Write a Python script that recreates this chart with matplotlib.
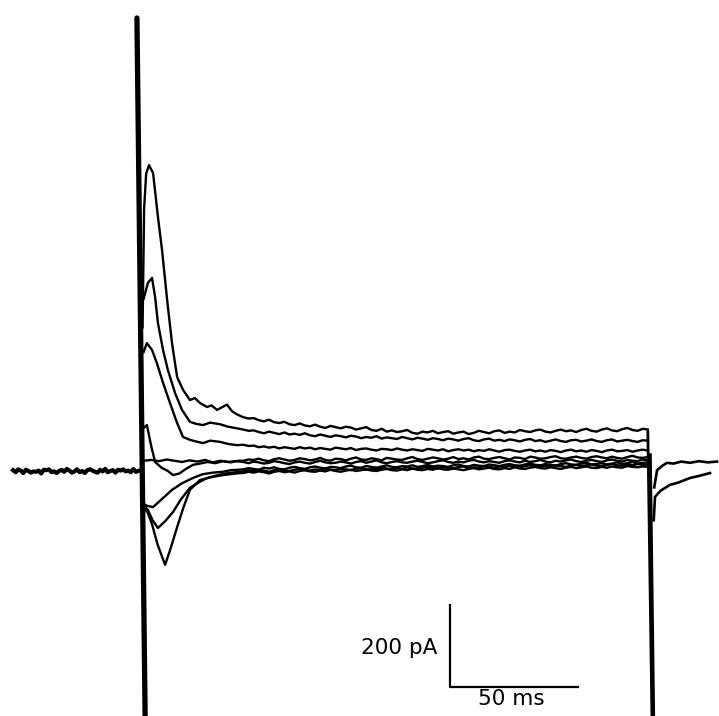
import matplotlib
matplotlib.use("Agg")
import matplotlib.pyplot as plt

# ---- data (time in ms relative to step onset, current in pA) ----
PRE_T = [-50, -49, -48, -47, -46, -45, -44, -43, -42, -41,
         -40, -39, -38, -37, -36, -35, -34, -33, -32, -31,
         -30, -29, -28, -27, -26, -25, -24, -23, -22, -21,
         -20, -19, -18, -17, -16, -15, -14, -13, -12, -11,
         -10, -9, -8, -7, -6, -5, -4, -3, -2, -1,
         0]
PRE_I = [2, -3, 4, 1, -5, 3, 0, -4, -1, -2,
         1, -6, 3, 2, 4, -3, -1, -5, 0, 3,
         -2, 5, 1, -4, -1, 4, -3, 0, -5, 2,
         4, 1, -2, -4, 3, -1, 5, -3, 0, 2,
         -4, 3, 1, 4, -1, 1, -3, 5, -2, 0,
         3]

T_SS = [40, 42, 44, 46, 48, 50, 52, 54, 56, 58,
        60, 62, 64, 66, 68, 70, 72, 74, 76, 78,
        80, 82, 84, 86, 88, 90, 92, 94, 96, 98,
        100, 102, 104, 106, 108, 110, 112, 114, 116, 118,
        120, 122, 124, 126, 128, 130, 132, 134, 136, 138,
        140, 142, 144, 146, 148, 150, 152, 154, 156, 158,
        160, 162, 164, 166, 168, 170, 172, 174, 176, 178,
        180, 182, 184, 186, 188, 190, 192, 194, 196, 198]

A_T = [0.6, 1.2, 2.0, 3.1, 4.7, 6.6, 8.2, 10.2, 12.1, 14.1, 16.4, 19.1, 21.0,
       23.0, 25.8, 27.5, 29.7, 31.5, 33.6, 35.5, 37.5]
A_I = [350, 640, 725, 746, 727, 620, 539, 417, 312, 229, 198, 173, 178,
       166, 156, 160, 149, 155, 162, 146, 138]
A_SS = [131, 128, 129, 124, 121, 125, 119, 117, 120, 114,
        112, 116, 111, 109, 113, 108, 105, 110, 107, 104,
        108, 106, 101, 104, 107, 100, 98, 103, 96, 99,
        95, 97, 100, 93, 91, 96, 94, 98, 92, 95,
        97, 91, 94, 96, 90, 93, 98, 95, 92, 97,
        99, 93, 96, 94, 100, 97, 95, 99, 101, 96,
        94, 98, 101, 97, 99, 95, 100, 103, 98, 96,
        101, 104, 99, 97, 102, 105, 100, 98, 103, 101]

B_T = [1.0, 2.7, 4.3, 5.5, 6.6, 8.6, 10.5, 13.3, 16.0, 19.1, 21.5, 24.2, 27.0,
       30.9, 34.0, 37.5]
B_I = [420, 459, 471, 424, 361, 295, 246, 190, 149, 120, 115, 112, 118,
       114, 108, 104]
B_SS = [101, 98, 99, 95, 92, 96, 93, 90, 94, 89,
        91, 88, 92, 87, 85, 89, 86, 83, 87, 85,
        82, 86, 84, 80, 83, 81, 85, 79, 82, 80,
        78, 83, 80, 77, 81, 79, 76, 80, 78, 75,
        79, 77, 74, 78, 80, 75, 73, 77, 79, 74,
        76, 73, 77, 75, 72, 76, 78, 73, 75, 71,
        74, 77, 73, 71, 75, 76, 72, 74, 77, 73,
        71, 75, 77, 72, 74, 76, 73, 71, 75, 74]

C_T = [1.0, 2.3, 4.3, 6.2, 8.6, 11.3, 14.1, 16.4, 19.1, 21.5, 24.2, 27.0,
       30.9, 34.0, 37.5]
C_I = [290, 312, 295, 263, 215, 166, 117, 83, 76, 72, 68, 74, 71, 66, 63]
C_SS = [64, 61, 62, 58, 60, 57, 59, 55, 58, 56,
        54, 58, 55, 57, 53, 56, 54, 52, 57, 55,
        53, 56, 51, 54, 55, 52, 50, 54, 53, 51,
        55, 52, 50, 53, 51, 49, 54, 52, 50, 53,
        48, 51, 53, 50, 52, 48, 51, 49, 53, 50,
        47, 51, 52, 49, 47, 50, 52, 48, 50, 47,
        51, 49, 46, 50, 52, 48, 50, 47, 51, 49,
        46, 50, 52, 48, 49, 51, 47, 50, 52, 50]

D_T = [1.0, 2.3, 4.0, 5.5, 8.0, 10.5, 12.5, 15.0, 17.5, 20.3, 23.0, 26.0,
       29.0, 32.0, 35.0, 38.0]
D_I = [105, 112, 60, 22, 8, 0, -10, -6, 5, 15, 18, 22, 19, 24, 21, 25]
D_SS = [25, 28, 27, 30, 26, 24, 29, 31, 28, 25,
        27, 31, 29, 26, 28, 32, 27, 25, 30, 29,
        26, 30, 33, 28, 27, 31, 29, 26, 32, 30,
        28, 27, 31, 34, 29, 27, 30, 33, 31, 28,
        30, 34, 29, 31, 28, 33, 35, 30, 29, 32,
        34, 31, 28, 33, 32, 29, 35, 33, 30, 31,
        34, 36, 31, 30, 33, 35, 32, 30, 34, 36,
        33, 31, 35, 32, 30, 34, 37, 33, 32, 34]

E_T = [1.0, 4.0, 7.0, 10.0, 13.0, 16.0, 19.0, 22.0, 25.0, 28.0, 31.0, 34.0, 37.0]
E_I = [25, 27, 24, 28, 25, 22, 26, 23, 27, 21, 25, 22, 24]
E_SS = [22, 19, 23, 21, 18, 20, 24, 22, 19, 17,
        21, 23, 20, 18, 22, 25, 21, 19, 20, 23,
        21, 18, 22, 24, 20, 23, 26, 21, 19, 22,
        24, 21, 20, 23, 25, 22, 19, 21, 24, 26,
        22, 20, 23, 21, 25, 27, 23, 21, 24, 22,
        20, 24, 26, 23, 21, 25, 22, 24, 27, 23,
        21, 25, 23, 26, 28, 24, 22, 25, 27, 24,
        22, 26, 28, 25, 23, 27, 25, 24, 28, 26]

F_T = [1.0, 2.3, 4.7, 8.6, 12.1, 16.0, 20.3, 24.0, 28.0, 32.0, 35.0, 38.0]
F_I = [-80, -85, -88, -66, -46, -30, -17, -8, -4, -2, 2, 3]
F_SS = [4, 7, 5, 3, 8, 6, 9, 5, 4, 8,
        10, 7, 5, 9, 11, 8, 6, 10, 9, 7,
        11, 13, 9, 8, 12, 10, 8, 11, 14, 10,
        9, 12, 11, 14, 10, 12, 15, 11, 13, 12,
        10, 14, 16, 12, 11, 15, 13, 12, 16, 14,
        12, 15, 17, 14, 13, 16, 18, 15, 14, 17,
        15, 13, 17, 19, 16, 15, 18, 20, 16, 17,
        19, 16, 18, 21, 17, 19, 22, 18, 20, 21]

G_T = [1.0, 2.7, 4.5, 6.6, 9.5, 12.5, 15.5, 19.1, 22.5, 25.8, 30.0, 34.0, 38.7]
G_I = [-85, -95, -120, -139, -122, -100, -70, -41, -28, -17, -10, -5, -2]
G_SS = [-1, 2, 0, 3, 1, -2, 2, 4, 1, 0,
        3, 5, 2, 1, 4, 2, 6, 3, 2, 5,
        4, 2, 6, 7, 3, 5, 4, 8, 6, 4,
        7, 5, 9, 6, 5, 8, 10, 7, 6, 9,
        8, 6, 10, 11, 7, 9, 8, 12, 10, 8,
        11, 9, 13, 10, 9, 12, 14, 11, 10, 13,
        11, 14, 12, 10, 13, 15, 12, 14, 16, 13,
        12, 15, 17, 14, 13, 16, 14, 17, 15, 16]

H_T = [1.0, 2.5, 4.3, 6.5, 9.4, 11.5, 14.1, 16.5, 19.1, 23.0, 27.5, 32.0,
       36.0, 38.7]
H_I = [-90, -100, -130, -180, -229, -190, -137, -90, -46, -22, -15, -10, -7, -5]
H_SS = [-5, -2, -4, -1, -3, -6, -2, 0, -3, -1,
        -4, 0, 2, -1, -2, 1, -1, 3, 0, -2,
        1, 3, 0, 2, 4, 1, 0, 3, 5, 2,
        1, 4, 2, 6, 3, 2, 5, 3, 7, 4,
        3, 6, 4, 2, 5, 7, 4, 6, 8, 5,
        4, 7, 5, 9, 6, 5, 8, 10, 7, 6,
        9, 7, 5, 8, 10, 7, 9, 11, 8, 7,
        10, 8, 11, 9, 8, 12, 10, 9, 11, 10]

TAIL1_T = [200.5, 201.6, 203.5, 205.5, 208.0, 211.0, 214.5, 218.0, 221.5, 225.0]
TAIL1_I = [-40, 2, 12, 20, 18, 23, 20, 24, 21, 23]
TAIL2_T = [200.3, 200.8, 203.0, 206.6, 210.0, 214.5, 218.0, 222.3]
TAIL2_I = [-120, -63, -48, -34, -28, -17, -12, -5]

ON_T = [-1.6, 1.6]
ON_I = [1105, -600]
OFF1_T = [198.0, 199.6]
OFF1_I = [95, -600]
OFF2_T = [199.0, 200.3]
OFF2_I = [40, -600]

SB_T0 = 120.7      # scale bar corner (ms)
SB_I0 = -527       # scale bar corner (pA)
SB_DT = 50         # ms
SB_DI = 200        # pA

traces = [(A_T, A_I, A_SS), (B_T, B_I, B_SS), (C_T, C_I, C_SS),
          (D_T, D_I, D_SS), (E_T, E_I, E_SS), (F_T, F_I, F_SS),
          (G_T, G_I, G_SS), (H_T, H_I, H_SS)]

fig = plt.figure(figsize=(7.19, 7.16), dpi=100)
ax = fig.add_axes([0, 0, 1, 1])
ax.set_xlim(-55.1, 225.8)
ax.set_ylim(-597.6, 1148.8)
ax.axis("off")

k = "black"
ax.plot(PRE_T, PRE_I, color=k, lw=3.0, solid_joinstyle="round")
for t_e, i_e, i_ss in traces:
    ax.plot(list(t_e) + T_SS, list(i_e) + i_ss, color=k, lw=1.7,
            solid_joinstyle="round")
ax.plot(TAIL1_T, TAIL1_I, color=k, lw=1.9)
ax.plot(TAIL2_T, TAIL2_I, color=k, lw=1.9)
ax.plot(ON_T, ON_I, color=k, lw=3.8, solid_capstyle="round")
ax.plot(OFF1_T, OFF1_I, color=k, lw=2.0)
ax.plot(OFF2_T, OFF2_I, color=k, lw=2.0)

# scale bar
ax.plot([SB_T0, SB_T0, SB_T0 + SB_DT], [SB_I0 + SB_DI, SB_I0, SB_I0],
        color=k, lw=1.6)
ax.text(SB_T0 - 5, SB_I0 + 95, "200 pA", ha="right", va="center",
        fontsize=15.5, family="DejaVu Sans")
ax.text(SB_T0 + 24, SB_I0 - 29, "50 ms", ha="center", va="center",
        fontsize=15.5, family="DejaVu Sans")

fig.savefig("out.png", dpi=100)
